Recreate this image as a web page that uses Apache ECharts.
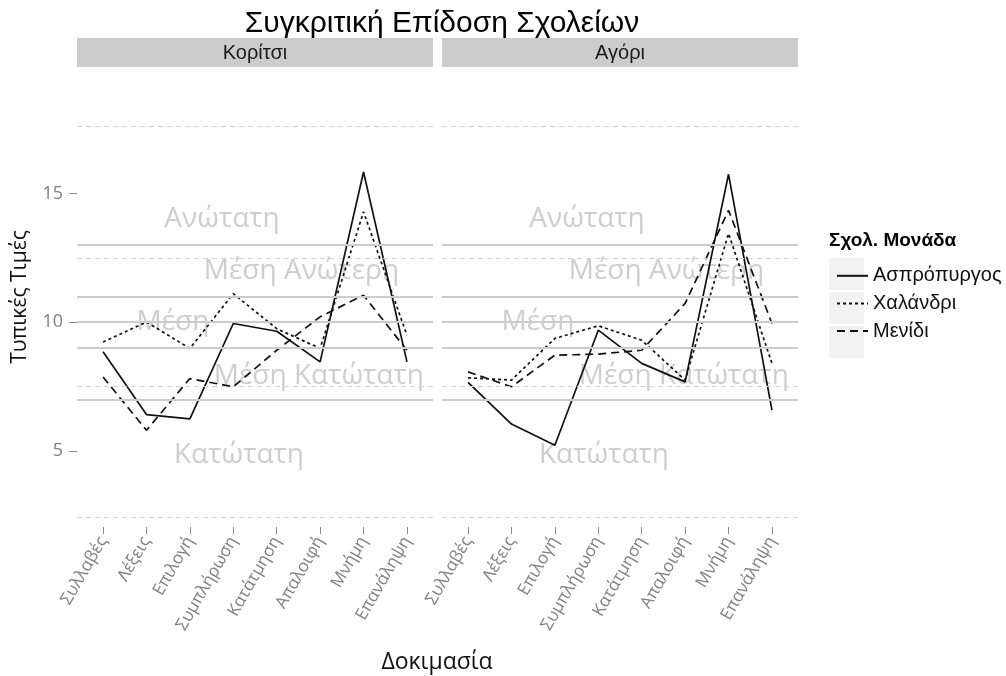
<!DOCTYPE html>
<html>
<head>
<meta charset="utf-8">
<script src="https://cdn.jsdelivr.net/npm/echarts@6/dist/echarts.min.js"></script>
<style>
html,body{margin:0;padding:0;background:#fff}
#chart{width:1006px;height:676px}
</style>
</head>
<body>
<div id="chart"></div>
<script>
// categories and facets
var tasks = ['Συλλαβές', 'Λέξεις', 'Επιλογή', 'Συμπλήρωση', 'Κατάτμηση', 'Απαλοιφή', 'Μνήμη', 'Επανάληψη'];
var panels = ['Κορίτσι', 'Αγόρι'];
var schools = ['Ασπρόπυργος', 'Χαλάνδρι', 'Μενίδι'];

// standard scores
var girlsAspropyrgos = [8.85, 6.41, 6.24, 9.95, 9.65, 8.46, 15.84, 8.46];
var girlsChalandri   = [9.23, 10.01, 8.98, 11.11, 9.75, 8.98, 14.29, 9.49];
var girlsMenidi      = [7.87, 5.80, 7.81, 7.49, 8.91, 10.21, 11.05, 8.91];
var boysAspropyrgos  = [7.66, 6.04, 5.22, 9.69, 8.40, 7.68, 15.75, 6.58];
var boysChalandri    = [7.84, 7.75, 9.37, 9.86, 9.30, 7.75, 13.45, 8.40];
var boysMenidi       = [8.07, 7.49, 8.72, 8.76, 8.91, 10.73, 14.35, 9.95];

// reference levels
var solidLevels = [13, 11, 10, 9, 7];
var dashedLevels = [17.6, 12.5, 7.5, 2.4];
var yTicks = [5, 10, 15];

// band labels: text, x (task index), y (score)
var bandNames = ['Ανώτατη', 'Μέση Ανώτερη', 'Μέση', 'Μέση Κατώτατη', 'Κατώτατη'];
var bandX = [2.74, 4.57, 1.61, 4.97, 3.13];
var bandY = [14, 12, 10, 7.9, 4.85];

var values = [
	[girlsAspropyrgos, girlsChalandri, girlsMenidi],
	[boysAspropyrgos, boysChalandri, boysMenidi]
];
var dashes = ['solid', [3, 3], [8, 5]];

var chart = echarts.init(document.getElementById('chart'));

var gridLeft = [77, 442];
var grids = [], xAxes = [], yAxes = [], series = [];
var taskIdx = tasks.map(function(t, i){ return i; });

for (var p = 0; p < panels.length; p++) {
	grids.push({left: gridLeft[p], top: 67, width: 356, height: 460});
	xAxes.push({
		type: 'value', gridIndex: p, min: -0.6, max: 7.6,
		axisLine: {show: false, onZero: false},
		splitLine: {show: false},
		axisTick: {show: true, customValues: taskIdx, length: 7, lineStyle: {color: '#8c8c8c'}},
		axisLabel: {
			customValues: taskIdx, rotate: 60, margin: 11,
			color: '#808080', fontSize: 17, fontFamily: 'Open Sans',
			formatter: function(v){ return tasks[Math.round(v)]; }
		}
	});
	yAxes.push({
		type: 'value', gridIndex: p, min: 2.04, max: 19.92,
		axisLine: {show: false, onZero: false},
		splitLine: {show: false},
		axisTick: {show: p === 0, customValues: yTicks, length: 8, lineStyle: {color: '#8c8c8c'}},
		axisLabel: {show: p === 0, customValues: yTicks, color: '#808080', fontSize: 18, fontFamily: 'Open Sans', margin: 14},
		name: p === 0 ? 'Τυπικές Τιμές' : '',
		nameLocation: 'middle', nameGap: 46,
		nameTextStyle: {fontSize: 21, color: '#111', fontFamily: 'Open Sans'}
	});

	// horizontal reference lines
	series.push({
		type: 'line', xAxisIndex: p, yAxisIndex: p, data: [], z: 1, silent: true,
		markLine: {
			silent: true, symbol: ['none', 'none'], label: {show: false},
			animation: false,
			data: solidLevels.map(function(v){
				return {yAxis: v, lineStyle: {type: 'solid', color: '#cccccc', width: 2}};
			}).concat(dashedLevels.map(function(v){
				return {yAxis: v, lineStyle: {type: [5, 4], color: '#d2d2d2', width: 1}};
			}))
		}
	});

	// band labels
	series.push({
		type: 'scatter', xAxisIndex: p, yAxisIndex: p, z: 2, silent: true,
		symbolSize: 1, itemStyle: {color: 'rgba(0,0,0,0)'},
		label: {show: true, position: 'inside', formatter: '{b}', color: '#c2c2c2', fontSize: 28, fontFamily: 'Open Sans'},
		labelLayout: {hideOverlap: false},
		data: bandNames.map(function(n, i){ return {name: n, value: [bandX[i], bandY[i]]}; })
	});

	for (var s = 0; s < schools.length; s++) {
		series.push({
			type: 'line', name: schools[s], xAxisIndex: p, yAxisIndex: p, z: 3,
			symbol: 'none',
			lineStyle: {color: '#111', width: 1.7, type: dashes[s]},
			itemStyle: {color: '#111'},
			data: values[p][s].map(function(v, i){ return [i, v]; })
		});
	}
}

var graphic = [];
for (var p = 0; p < panels.length; p++) {
	graphic.push({type: 'rect', left: gridLeft[p], top: 38, shape: {width: 356, height: 29}, style: {fill: '#cccccc'}});
	graphic.push({type: 'text', x: gridLeft[p] + 178, y: 53, style: {text: panels[p], fill: '#1a1a1a', font: '20px "Liberation Sans", Arial', textAlign: 'center', textVerticalAlign: 'middle'}});
}
// legend key boxes
for (var s = 0; s < schools.length; s++) {
	graphic.push({type: 'rect', left: 829, top: 258 + s * 34, shape: {width: 35, height: 32}, style: {fill: '#f2f2f2'}, z: -1});
}
graphic.push({type: 'text', left: 829, top: 231, style: {text: 'Σχολ. Μονάδα', fill: '#000', font: 'bold 19px "Liberation Sans", Arial'}});
graphic.push({type: 'text', x: 437, y: 662, style: {text: 'Δοκιμασία', fill: '#111', font: '23px "Open Sans"', textAlign: 'center', textVerticalAlign: 'middle'}});

chart.setOption({
	animation: false,
	backgroundColor: '#ffffff',
	title: {
		text: 'Συγκριτική Επίδοση Σχολείων',
		left: 437, top: 4, textAlign: 'center',
		textStyle: {fontSize: 30, fontWeight: 'normal', color: '#000', fontFamily: '"Liberation Sans", Arial'}
	},
	legend: {
		data: schools, orient: 'vertical', left: 831, top: 258,
		itemWidth: 31, itemHeight: 32, itemGap: 2,
		itemStyle: {opacity: 0},
		textStyle: {fontSize: 20, color: '#111', fontFamily: '"Liberation Sans", Arial'}
	},
	grid: grids,
	xAxis: xAxes,
	yAxis: yAxes,
	series: series,
	graphic: graphic
});
</script>
</body>
</html>
